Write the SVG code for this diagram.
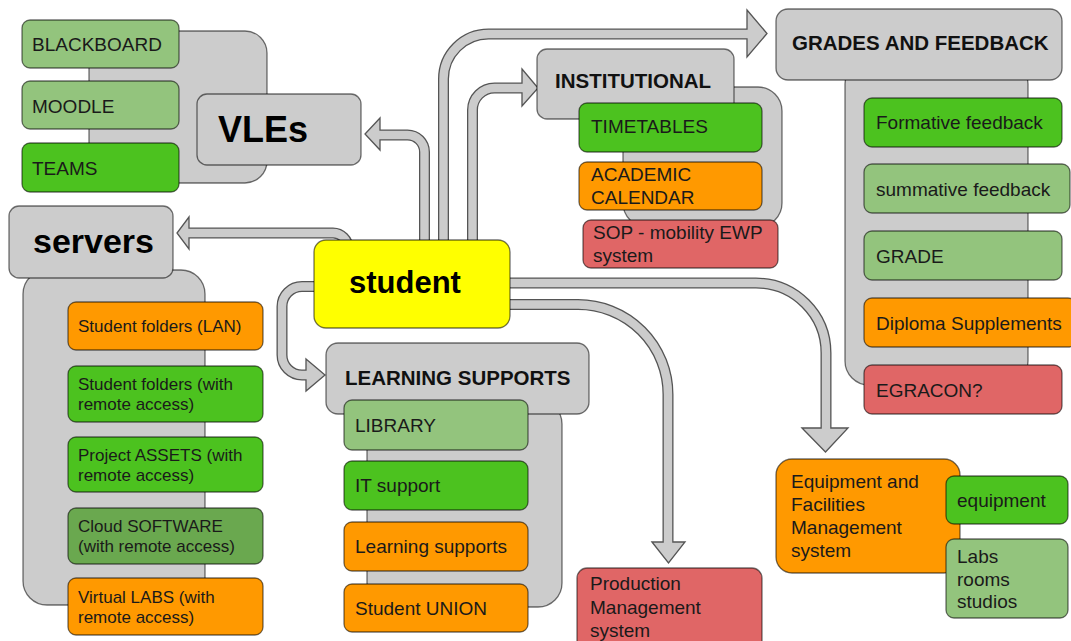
<svg xmlns="http://www.w3.org/2000/svg" width="1071" height="641" viewBox="0 0 1071 641">
<style>
.b{stroke:#000;stroke-opacity:.55;stroke-width:1.3}
.gy{fill:#cccccc}
.lg{fill:#93c47d}
.g{fill:#4cc21f}
.dg{fill:#6aa84f}
.or{fill:#ff9900}
.rd{fill:#e06666}
.yl{fill:#ffff00}
text{font-family:"Liberation Sans",Arial,sans-serif;fill:#1a1a1a}
.t19{font-size:19px}
.t17{font-size:17px}
.hd{font-size:20.5px;font-weight:bold;fill:#111}
.big{font-weight:bold;fill:#000}
.ao{fill:none;stroke:#555;stroke-width:11}
.ai{fill:none;stroke:#cccccc;stroke-width:8.4}
.ah{fill:#cccccc;stroke:#555;stroke-width:1.3}
</style>
<rect width="1071" height="641" fill="#fff"/>
<g id="connectors">
  <!-- to VLEs -->
  <path class="ao" d="M424.5,250 V152 A17,17 0 0 0 407.5,135 H380"/>
  <polygon class="ah" points="380,118 365,134 380,150"/>
  <path class="ai" d="M424.5,250 V152 A17,17 0 0 0 407.5,135 H378"/>
  <!-- to servers -->
  <path class="ao" d="M189,233 H333 A15,15 0 0 1 348,248 V256"/>
  <polygon class="ah" points="189,217 177,233 189,249"/>
  <path class="ai" d="M187,233 H333 A15,15 0 0 1 348,248 V256"/>
  <!-- to grades -->
  <path class="ao" d="M443.5,250 V79 A45,45 0 0 1 488.5,34 H747"/>
  <polygon class="ah" points="747,10 767,33.5 747,57"/>
  <path class="ai" d="M443.5,250 V79 A45,45 0 0 1 488.5,34 H749"/>
  <!-- to institutional -->
  <path class="ao" d="M472.5,250 V110 A22,22 0 0 1 494.5,88 H522"/>
  <polygon class="ah" points="522,69 538,88 522,106"/>
  <path class="ai" d="M472.5,250 V110 A22,22 0 0 1 494.5,88 H524"/>
  <!-- to equipment -->
  <path class="ao" d="M500,283 H756 A70,70 0 0 1 826,353 V428"/>
  <polygon class="ah" points="802,428 825.5,452 848,428"/>
  <path class="ai" d="M500,283 H756 A70,70 0 0 1 826,353 V430"/>
  <!-- to production -->
  <path class="ao" d="M500,304.5 H578 A90,90 0 0 1 668,394.5 V542"/>
  <polygon class="ah" points="652,542 668.5,563 685,542"/>
  <path class="ai" d="M500,304.5 H578 A90,90 0 0 1 668,394.5 V544"/>
  <!-- to learning supports -->
  <path class="ao" d="M322,286.5 H302 A20,20 0 0 0 282,306.5 V355 A20,20 0 0 0 302,375 H306"/>
  <polygon class="ah" points="306,359 325,375 306,391"/>
  <path class="ai" d="M322,286.5 H302 A20,20 0 0 0 282,306.5 V355 A20,20 0 0 0 302,375 H308"/>
</g>
<g id="vles">
  <rect class="b gy" x="89" y="31" width="178" height="152" rx="22"/>
  <rect class="b gy" x="197" y="94" width="164" height="71" rx="10"/>
  <text class="big" x="218" y="142" font-size="36">VLEs</text>
  <g id="blackboard"><rect class="b lg" x="22" y="20" width="157" height="48" rx="8"/><text class="t19" x="32" y="51">BLACKBOARD</text></g>
  <g id="moodle"><rect class="b lg" x="22" y="81" width="157" height="48" rx="8"/><text class="t19" x="32" y="113">MOODLE</text></g>
  <g id="teams"><rect class="b g" x="22" y="143" width="157" height="49" rx="8"/><text class="t19" x="32" y="175">TEAMS</text></g>
</g>
<g id="servers">
  <rect class="b gy" x="23" y="270" width="182" height="335" rx="24"/>
  <rect class="b gy" x="9" y="206" width="164" height="72" rx="10"/>
  <text class="big" x="33" y="253" font-size="34">servers</text>
  <g id="sf-lan"><rect class="b or" x="68" y="302" width="195" height="48" rx="8"/><text class="t17" x="78" y="332">Student folders (LAN)</text></g>
  <g id="sf-remote"><rect class="b g" x="68" y="366" width="195" height="56" rx="8"/><text class="t17" x="78" y="390">Student folders (with</text><text class="t17" x="78" y="410">remote access)</text></g>
  <g id="assets"><rect class="b g" x="68" y="437" width="195" height="55" rx="8"/><text class="t17" x="78" y="461">Project ASSETS (with</text><text class="t17" x="78" y="481">remote access)</text></g>
  <g id="cloud"><rect class="b dg" x="68" y="508" width="195" height="56" rx="8"/><text class="t17" x="78" y="532">Cloud SOFTWARE</text><text class="t17" x="78" y="552">(with remote access)</text></g>
  <g id="vlabs"><rect class="b or" x="68" y="578" width="195" height="57" rx="8"/><text class="t17" x="78" y="603">Virtual LABS (with</text><text class="t17" x="78" y="623">remote access)</text></g>
</g>
<g id="student">
  <rect class="b yl" x="314" y="240" width="196" height="88" rx="12"/>
  <text class="big" x="349" y="293" font-size="31">student</text>
</g>
<g id="institutional">
  <rect class="b gy" x="623" y="87" width="159" height="140" rx="24"/>
  <rect class="b gy" x="537" y="49" width="197" height="70" rx="10"/>
  <text class="hd" x="555" y="88">INSTITUTIONAL</text>
  <g id="timetables"><rect class="b g" x="579" y="103" width="183" height="49" rx="8"/><text class="t19" x="591" y="133">TIMETABLES</text></g>
  <g id="calendar"><rect class="b or" x="579" y="162" width="183" height="48" rx="8"/><text class="t19" x="591" y="181">ACADEMIC</text><text class="t19" x="591" y="204">CALENDAR</text></g>
  <g id="sop"><rect class="b rd" x="583" y="220" width="195" height="48" rx="8"/><text class="t19" x="593" y="239">SOP - mobility EWP</text><text class="t19" x="593" y="262">system</text></g>
</g>
<g id="grades">
  <rect class="b gy" x="845" y="60" width="183" height="325" rx="24"/>
  <rect class="b gy" x="776" y="9" width="286" height="71" rx="12"/>
  <text class="hd" x="792" y="50">GRADES AND FEEDBACK</text>
  <g id="formative"><rect class="b g" x="864" y="98" width="198" height="49" rx="8"/><text class="t19" x="876" y="129">Formative feedback</text></g>
  <g id="summative"><rect class="b lg" x="864" y="164" width="206" height="49" rx="8"/><text class="t19" x="876" y="196">summative feedback</text></g>
  <g id="grade"><rect class="b lg" x="864" y="231" width="198" height="49" rx="8"/><text class="t19" x="876" y="263">GRADE</text></g>
  <g id="diploma"><rect class="b or" x="864" y="298" width="212" height="49" rx="8"/><text class="t19" x="876" y="330">Diploma Supplements</text></g>
  <g id="egracon"><rect class="b rd" x="864" y="365" width="198" height="49" rx="8"/><text class="t19" x="876" y="397">EGRACON?</text></g>
</g>
<g id="learning">
  <rect class="b gy" x="367" y="400" width="195" height="207" rx="24"/>
  <rect class="b gy" x="326" y="343" width="263" height="71" rx="12"/>
  <text class="hd" x="345" y="385">LEARNING SUPPORTS</text>
  <g id="library"><rect class="b lg" x="344" y="400" width="184" height="50" rx="8"/><text class="t19" x="355" y="432">LIBRARY</text></g>
  <g id="itsupport"><rect class="b g" x="344" y="461" width="184" height="49" rx="8"/><text class="t19" x="355" y="492">IT support</text></g>
  <g id="lsupports"><rect class="b or" x="344" y="522" width="184" height="49" rx="8"/><text class="t19" x="355" y="553">Learning supports</text></g>
  <g id="union"><rect class="b or" x="344" y="584" width="184" height="48" rx="8"/><text class="t19" x="355" y="615">Student UNION</text></g>
</g>
<g id="production">
  <rect class="b rd" x="577" y="568" width="185" height="85" rx="10"/>
  <text class="t19" x="590" y="590">Production</text>
  <text class="t19" x="590" y="614">Management</text>
  <text class="t19" x="590" y="637">system</text>
</g>
<g id="equipment-facilities">
  <rect class="b or" x="776" y="459" width="184" height="114" rx="16"/>
  <text class="t19" x="791" y="488">Equipment and</text>
  <text class="t19" x="791" y="511">Facilities</text>
  <text class="t19" x="791" y="534">Management</text>
  <text class="t19" x="791" y="557">system</text>
  <g id="equipment"><rect class="b g" x="946" y="476" width="122" height="48" rx="8"/><text class="t19" x="957" y="507">equipment</text></g>
  <g id="labs"><rect class="b lg" x="946" y="539" width="122" height="79" rx="8"/><text class="t19" x="957" y="563">Labs</text><text class="t19" x="957" y="586">rooms</text><text class="t19" x="957" y="608">studios</text></g>
</g>
</svg>
